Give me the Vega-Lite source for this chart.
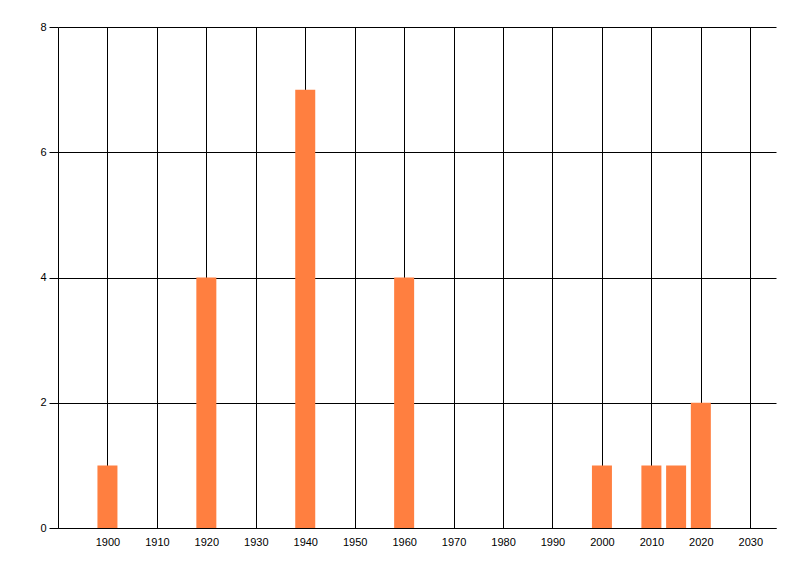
{
  "$schema": "https://vega.github.io/schema/vega-lite/v6.json",
  "width": 718,
  "height": 501,
  "autosize": "none",
  "padding": {"left": 58, "top": 27, "right": 24, "bottom": 48},
  "background": "white",
  "config": {
    "view": {"stroke": null},
    "axis": {
      "labelFont": "Liberation Sans",
      "labelFontSize": 11,
      "labelColor": "black",
      "domainColor": "black",
      "tickColor": "black",
      "gridColor": "black",
      "gridOpacity": 1,
      "domainWidth": 1,
      "gridWidth": 1
    }
  },
  "data": {
    "values": [
      {"year": 1900, "count": 1},
      {"year": 1920, "count": 4},
      {"year": 1940, "count": 7},
      {"year": 1960, "count": 4},
      {"year": 2000, "count": 1},
      {"year": 2010, "count": 1},
      {"year": 2015, "count": 1},
      {"year": 2020, "count": 2}
    ]
  },
  "mark": {"type": "bar", "size": 20, "color": "#FF7F40", "orient": "vertical"},
  "encoding": {
    "x": {
      "field": "year",
      "type": "quantitative",
      "scale": {"domain": [1890, 2035.2], "nice": false, "zero": false, "padding": 0},
      "axis": {
        "title": null,
        "values": [1900, 1910, 1920, 1930, 1940, 1950, 1960, 1970, 1980, 1990, 2000, 2010, 2020, 2030],
        "format": "d",
        "grid": true,
        "ticks": false,
        "labelPadding": 8
      }
    },
    "y": {
      "field": "count",
      "type": "quantitative",
      "scale": {"domain": [0, 8], "nice": false},
      "axis": {
        "title": null,
        "values": [0, 2, 4, 6, 8],
        "grid": true,
        "ticks": true,
        "tickSize": 9,
        "labelPadding": 3
      }
    }
  }
}
